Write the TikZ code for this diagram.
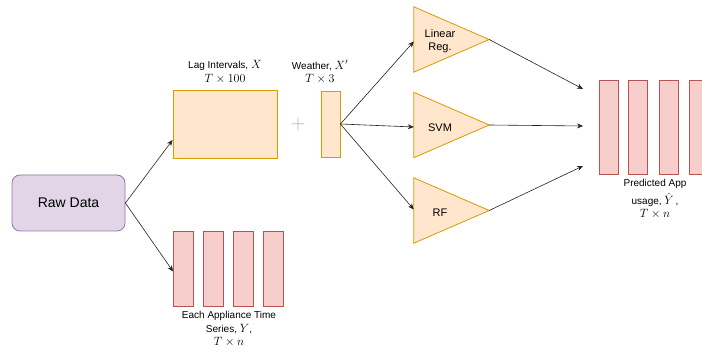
\documentclass[tikz,border=0pt]{standalone}
\usepackage{fontspec}
\setmainfont{Liberation Sans}
\usetikzlibrary{arrows.meta}
\DeclareMathSizes{10}{11.5}{8}{6}
\definecolor{rawfill}{HTML}{E1D5E7}
\definecolor{rawline}{HTML}{9673A6}
\definecolor{orfill}{HTML}{FFE6CC}
\definecolor{orline}{HTML}{D79B00}
\definecolor{barfill}{HTML}{F8CECC}
\definecolor{barline}{HTML}{B85450}
\definecolor{arrline}{HTML}{222222}
\tikzset{
  rawbox/.style={draw=rawline, fill=rawfill, rounded corners=8pt, line width=0.8pt,
    minimum width=113pt, minimum height=56pt, inner sep=0pt,
    font=\fontsize{14}{16}\selectfont},
  orbox/.style={draw=orline, fill=orfill, line width=0.8pt, inner sep=0pt},
  barbox/.style={draw=barline, fill=barfill, line width=0.8pt, inner sep=0pt,
    minimum width=20pt},
  trinode/.style={inner sep=0pt, minimum width=75pt, minimum height=65pt},
  lbl/.style={font=\fontsize{10}{13.5}\selectfont, align=center, inner sep=0pt},
  tritext/.style={font=\fontsize{11}{13}\selectfont, align=center, inner sep=0pt},
  arr/.style={draw=arrline, line width=0.6pt, -{Stealth[length=6pt,width=5pt]}}
}
\begin{document}
\begin{tikzpicture}[x=1pt,y=-1pt]
\useasboundingbox (0,0) rectangle (702,352);

% raw input
\node[rawbox] (raw) at (68.5,203) {Raw Data};

% feature matrices
\node[orbox, minimum width=104pt, minimum height=68pt] (lag) at (225,124) {};
\node[lbl] (lagl) at (225,72) {Lag Intervals, $X$\\$T\times100$};
\node[font=\fontsize{20}{20}\selectfont, text=gray!60, inner sep=0pt] (plus) at (298,124) {$+$};
\node[orbox, minimum width=19pt, minimum height=66pt] (wx) at (330.5,124) {};
\node[lbl] (wxl) at (320,72) {Weather, $X'$\\$T\times3$};

% appliance time series
\foreach \i/\x in {1/183.5, 2/213.5, 3/243.5, 4/273.5}
  \node[barbox, minimum height=75pt] (ap\i) at (\x,268.5) {};
\node[lbl] (apl) at (229,329) {Each Appliance Time\\Series, $Y$,\\$T\times n$};

% models
\node[trinode] (lr) at (451.5,39.5) {};
\node[trinode] (svm) at (451.5,125) {};
\node[trinode] (rf) at (451.5,210.5) {};
\foreach \m in {lr,svm,rf}
  \draw[orbox] (\m.north west) -- (\m.east) -- (\m.south west) -- cycle;
\node[tritext] (lrt) at (440,41) {Linear\\Reg.};
\node[tritext] (svmt) at (440,128) {SVM};
\node[tritext] (rft) at (440,213) {RF};

% predictions
\foreach \i/\x in {1/608.5, 2/638, 3/669, 4/699}
  \node[barbox, minimum width=19pt, minimum height=94pt] (pr\i) at (\x,127) {};
\node[lbl] (prl) at (655,199) {Predicted App\\[4pt]usage,\ $\hat{Y}$\,,\\$T\times n$};

% free ends of the model outputs
\coordinate (o1) at (583,89);
\coordinate (o2) at (583,126);
\coordinate (o3) at (583,166);

% connectors
\draw[arr] (raw.east) -- ([yshift=-16pt]lag.west);
\draw[arr] (raw.east) -- ([yshift=-3pt]ap1.west);
\draw[arr] (wx.east) -- ([yshift=-2pt]lr.west);
\draw[arr] (wx.east) -- ([yshift=-2pt]svm.west);
\draw[arr] (wx.east) -- ([yshift=1pt]rf.west);
\draw[arr] (lr.east) -- (o1);
\draw[arr] (svm.east) -- (o2);
\draw[arr] (rf.east) -- (o3);
\end{tikzpicture}
\end{document}
